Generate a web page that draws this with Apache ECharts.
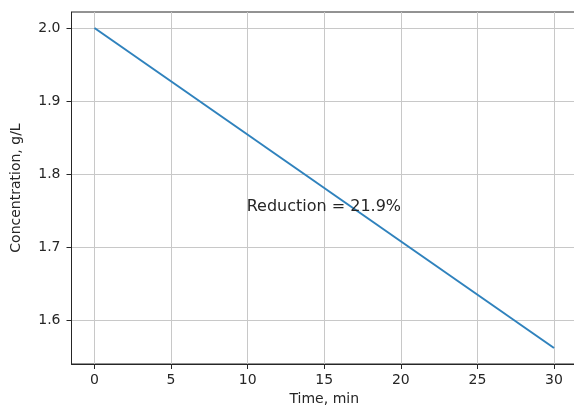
<!DOCTYPE html>
<html>
<head>
<meta charset="utf-8">
<script src="https://cdn.jsdelivr.net/npm/echarts@6/dist/echarts.min.js"></script>
<style>
  html, body { margin: 0; padding: 0; background: #fff; }
  #main { width: 574px; height: 409px; }
</style>
</head>
<body>
<div id="main"></div>
<script>
// data
var timeMin = [0, 30];
var concentration = [2.0, 1.562];
var xTicks = [0, 5, 10, 15, 20, 25, 30];
var yTicks = [1.6, 1.7, 1.8, 1.9, 2.0];
var reductionText = 'Reduction = 21.9%';
var reductionAt = [10, 1.75];

var myChart = echarts.init(document.getElementById('main'));

var font = 'DejaVu Sans';
var ink = '#262626';

var option = {
    animation: false,
    backgroundColor: '#fff',
    grid: {
        left: 71.5,
        width: 505.5,
        top: 12,
        height: 352,
        outerBoundsMode: 'none',
        show: true,
        borderColor: ink,
        borderWidth: 1
    },
    xAxis: {
        type: 'value',
        min: -1.5,
        max: 31.5,
        name: 'Time, min',
        nameLocation: 'middle',
        nameGap: 28,
        nameTextStyle: { fontFamily: font, fontSize: 14, color: ink },
        axisLine: { show: true, onZero: false, lineStyle: { color: ink, width: 1 } },
        axisTick: { show: true, length: 5, lineStyle: { color: ink }, customValues: xTicks },
        axisLabel: {
            customValues: xTicks,
            margin: 9,
            fontFamily: font, fontSize: 14, color: ink
        },
        splitLine: { show: true, lineStyle: { color: '#c8c8c8', width: 1 } }
    },
    yAxis: {
        type: 'value',
        min: 1.5401,
        max: 2.0219,
        name: 'Concentration, g/L',
        nameLocation: 'middle',
        nameGap: 48,
        nameTextStyle: { fontFamily: font, fontSize: 14, color: ink },
        axisLine: { show: true, onZero: false, lineStyle: { color: ink, width: 1 } },
        axisTick: { show: true, length: 5, lineStyle: { color: ink }, customValues: yTicks },
        axisLabel: {
            customValues: yTicks,
            margin: 11,
            fontFamily: font, fontSize: 14, color: ink,
            formatter: function (v) { return v.toFixed(1); }
        },
        splitLine: { show: true, lineStyle: { color: '#c8c8c8', width: 1 } }
    },
    series: [{
        type: 'line',
        data: timeMin.map(function (t, i) { return [t, concentration[i]]; }),
        showSymbol: false,
        lineStyle: { color: '#2f82bd', width: 2 },
        markPoint: {
            symbolSize: 0,
            data: [{ coord: reductionAt }],
            label: {
                show: true,
                formatter: reductionText,
                position: [0, 0],
                align: 'left',
                verticalAlign: 'bottom',
                offset: [-1, 4],
                fontFamily: font,
                fontSize: 16,
                color: ink
            }
        }
    }]
};

myChart.setOption(option);
</script>
</body>
</html>
